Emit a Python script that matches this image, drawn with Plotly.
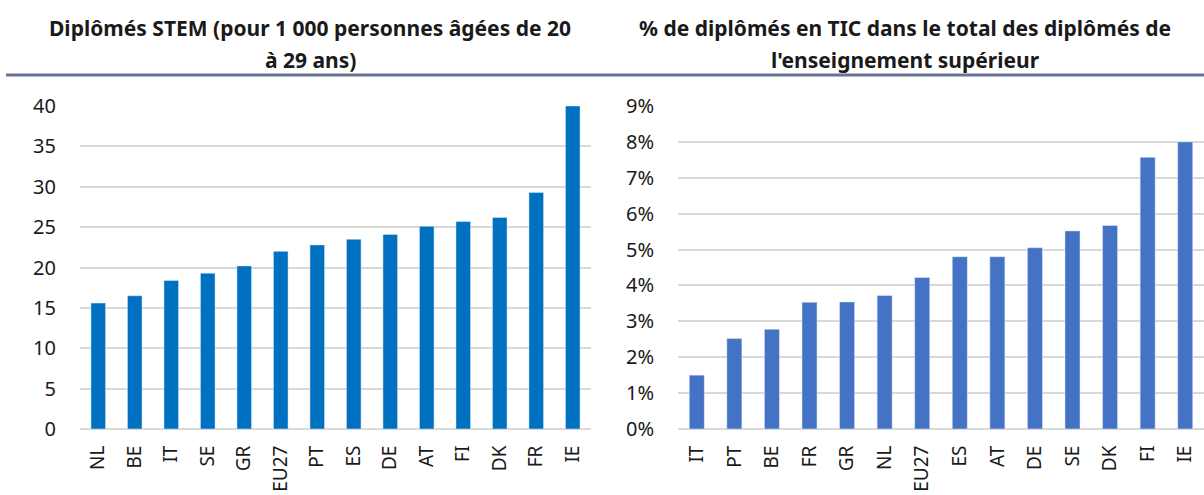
import plotly.graph_objects as go

# Left chart: STEM graduates per 1000 people aged 20-29
stem_countries = ["NL", "BE", "IT", "SE", "GR", "EU27", "PT", "ES", "DE", "AT", "FI", "DK", "FR", "IE"]
stem_values = [15.6, 16.5, 18.4, 19.3, 20.2, 22.0, 22.8, 23.5, 24.1, 25.1, 25.7, 26.2, 29.3, 40.0]

# Right chart: share of ICT graduates among tertiary graduates
ict_countries = ["IT", "PT", "BE", "FR", "GR", "NL", "EU27", "ES", "AT", "DE", "SE", "DK", "FI", "IE"]
ict_values = [0.015, 0.0252, 0.0278, 0.0353, 0.0354, 0.0372, 0.0422, 0.048, 0.048, 0.0505, 0.0552, 0.0567, 0.0757, 0.080]

left_title = ["Diplômés STEM (pour 1 000 personnes âgées de 20", "à 29 ans)"]
right_title = ["% de diplômés en TIC dans le total des diplômés de", "l'enseignement supérieur"]

W, H = 1204, 495
FONT = "Noto Sans"
TXT = "#1a1a1a"

fig = go.Figure()
fig.add_trace(go.Bar(x=stem_countries, y=stem_values, marker_color="#0070C0",
                     xaxis="x", yaxis="y", showlegend=False, hoverinfo="skip"))
fig.add_trace(go.Bar(x=ict_countries, y=ict_values, marker_color="#4472C4",
                     xaxis="x2", yaxis="y2", showlegend=False, hoverinfo="skip"))

def px(x):
    return x / W

def py(y):
    return 1 - y / H

ydom = [py(429), py(106)]
ytickfont = dict(family=FONT, size=20, color=TXT)
xtickfont = dict(family=FONT, size=19, color=TXT)

fig.update_layout(
    width=W, height=H,
    margin=dict(l=0, r=0, t=0, b=0),
    paper_bgcolor="white", plot_bgcolor="white",
    bargap=0.6,
    font=dict(family=FONT, color=TXT),
    xaxis=dict(domain=[px(80), px(591)], anchor="y", type="category",
               tickangle=-90, tickfont=xtickfont, showgrid=False, zeroline=False,
               showline=False, ticks="outside", ticklen=8, tickcolor="rgba(0,0,0,0)",
               automargin=False, fixedrange=True),
    yaxis=dict(domain=ydom, anchor="x", range=[0, 40], dtick=5, tickfont=ytickfont,
               showgrid=True, gridcolor="#D9D9D9", gridwidth=1.5, zeroline=True,
               zerolinecolor="#D9D9D9", zerolinewidth=1.5,
               ticks="outside", ticklen=19, tickcolor="rgba(0,0,0,0)",
               automargin=False, fixedrange=True),
    xaxis2=dict(domain=[px(678), 1.0], anchor="y2", type="category",
                tickangle=-90, tickfont=xtickfont, showgrid=False, zeroline=False,
                showline=False, ticks="outside", ticklen=8, tickcolor="rgba(0,0,0,0)",
                automargin=False, fixedrange=True),
    yaxis2=dict(domain=ydom, anchor="x2", range=[0, 0.09], dtick=0.01, tickformat=".0%",
                tickfont=ytickfont, showgrid=True, gridcolor="#D9D9D9", gridwidth=1.5,
                zeroline=True, zerolinecolor="#D9D9D9", zerolinewidth=1.5,
                ticks="outside", ticklen=19, tickcolor="rgba(0,0,0,0)",
                automargin=False, fixedrange=True),
)

title_font = dict(family=FONT, size=21, color=TXT, weight="bold")
for cx, lines in ((310, left_title), (905, right_title)):
    for ly, line in zip((28, 60), lines):
        fig.add_annotation(x=px(cx), y=py(ly), xref="paper", yref="paper", text=line,
                           showarrow=False, xanchor="center", yanchor="middle",
                           font=title_font)

fig.add_shape(type="line", xref="paper", yref="paper", x0=px(6), x1=1.0,
              y0=py(75), y1=py(75), line=dict(color="#687494", width=3))

fig.write_html("out.html", config={"displayModeBar": False},
               post_script="document.body.style.margin='0px';")
